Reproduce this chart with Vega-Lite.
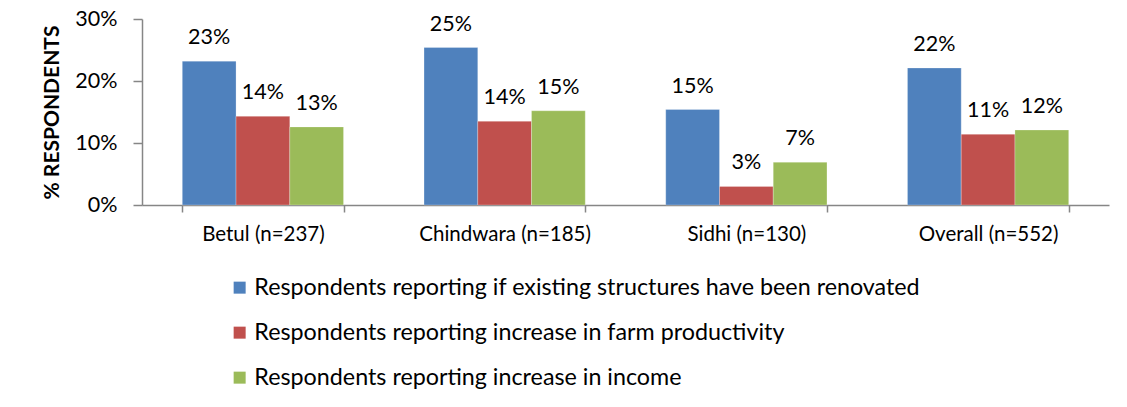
{
  "$schema": "https://vega.github.io/schema/vega-lite/v6.json",
  "width": 967,
  "height": 186,
  "autosize": {"type": "none"},
  "padding": {"left": 142, "top": 19, "right": 18, "bottom": 202},
  "background": "white",
  "config": {
    "view": {"stroke": null},
    "font": "Lato",
    "axis": {
      "domainColor": "#868686",
      "tickColor": "#868686",
      "labelColor": "#000000",
      "titleColor": "#000000",
      "labelFont": "Lato",
      "titleFont": "Lato",
      "grid": false
    }
  },
  "data": {
    "values": [
      {"district": "Betul (n=237)", "series": "Respondents reporting if existing structures have been renovated", "value": 0.232, "label": "23%"},
      {"district": "Betul (n=237)", "series": "Respondents reporting increase in farm productivity", "value": 0.143, "label": "14%"},
      {"district": "Betul (n=237)", "series": "Respondents reporting increase in income", "value": 0.126, "label": "13%"},
      {"district": "Chindwara (n=185)", "series": "Respondents reporting if existing structures have been renovated", "value": 0.254, "label": "25%"},
      {"district": "Chindwara (n=185)", "series": "Respondents reporting increase in farm productivity", "value": 0.135, "label": "14%"},
      {"district": "Chindwara (n=185)", "series": "Respondents reporting increase in income", "value": 0.152, "label": "15%"},
      {"district": "Sidhi (n=130)", "series": "Respondents reporting if existing structures have been renovated", "value": 0.154, "label": "15%"},
      {"district": "Sidhi (n=130)", "series": "Respondents reporting increase in farm productivity", "value": 0.030, "label": "3%"},
      {"district": "Sidhi (n=130)", "series": "Respondents reporting increase in income", "value": 0.069, "label": "7%"},
      {"district": "Overall (n=552)", "series": "Respondents reporting if existing structures have been renovated", "value": 0.221, "label": "22%"},
      {"district": "Overall (n=552)", "series": "Respondents reporting increase in farm productivity", "value": 0.114, "label": "11%"},
      {"district": "Overall (n=552)", "series": "Respondents reporting increase in income", "value": 0.121, "label": "12%"}
    ]
  },
  "encoding": {
    "x": {
      "field": "district",
      "type": "nominal",
      "sort": null,
      "scale": {"paddingInner": 0.333, "paddingOuter": 0.1667},
      "axis": {
        "title": null,
        "labelAngle": 0,
        "labelFontSize": 20.5,
        "tickBand": "extent",
        "tickSize": 7,
        "labelPadding": 12,
        "domainWidth": 1.5,
        "tickWidth": 1.5
      }
    },
    "xOffset": {
      "field": "series",
      "type": "nominal",
      "sort": null,
      "scale": {"paddingInner": 0, "paddingOuter": 0}
    },
    "y": {
      "field": "value",
      "type": "quantitative",
      "scale": {"domain": [0, 0.3], "nice": false},
      "axis": {
        "title": "% RESPONDENTS",
        "titleFontSize": 21,
        "titleFontWeight": "bold",
        "titlePadding": 12,
        "values": [0, 0.1, 0.2, 0.3],
        "format": ".0%",
        "labelFontSize": 21.5,
        "tickSize": 9,
        "labelPadding": 16,
        "domainWidth": 1.5,
        "tickWidth": 1.5
      }
    }
  },
  "layer": [
    {
      "mark": {"type": "bar", "stroke": "white", "strokeWidth": 0.5, "strokeOpacity": 0.5},
      "encoding": {
        "color": {
          "field": "series",
          "type": "nominal",
          "sort": null,
          "scale": {"range": ["#4F81BD", "#C0504D", "#9BBB59"]},
          "legend": {
            "title": null,
            "orient": "none",
            "legendX": 86,
            "legendY": 257,
            "direction": "vertical",
            "symbolType": "square",
            "symbolSize": 144,
            "symbolStrokeWidth": 0,
            "labelFontSize": 23.3,
            "labelFont": "Lato",
            "labelColor": "#000000",
            "labelOffset": 3,
            "labelLimit": 1000,
            "rowPadding": 21,
            "padding": 0
          }
        }
      }
    },
    {
      "mark": {"type": "text", "baseline": "alphabetic", "dy": -17, "fontSize": 21.5, "font": "Lato", "color": "#000000"},
      "encoding": {
        "text": {"field": "label"}
      }
    }
  ]
}
